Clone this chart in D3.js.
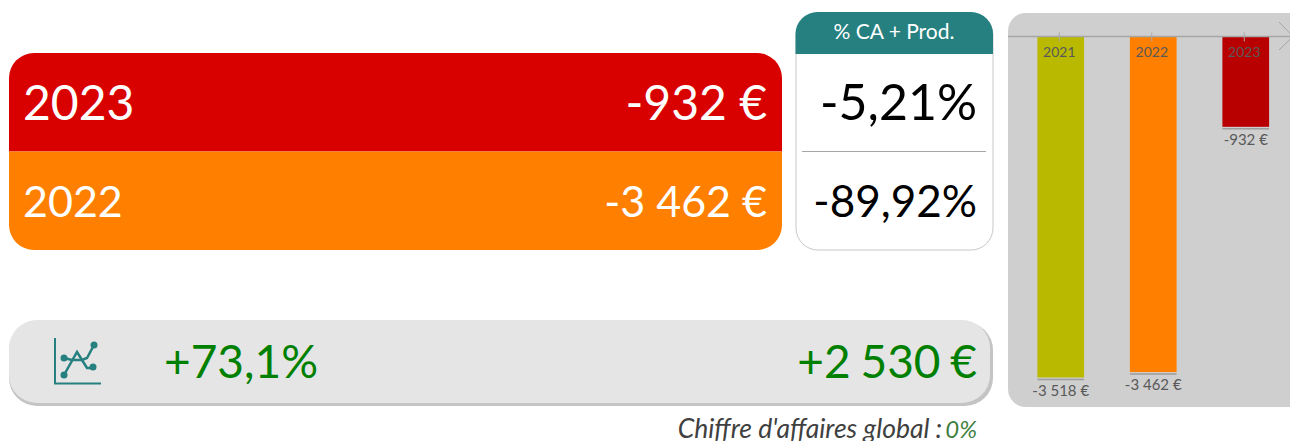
<!DOCTYPE html>
<html>
<head>
<meta charset="utf-8">
<script src="https://cdn.jsdelivr.net/npm/d3@7"></script>
<style>
  html, body { margin: 0; padding: 0; background: #fff; overflow: hidden; }
  svg { display: block; }
  text { font-family: Lato, "Open Sans", sans-serif; }
</style>
</head>
<body>
<script>
// values
var years = ["2021", "2022", "2023"];
var results = [-3518, -3462, -932];
var barColors = ["#b9b900", "#ff8000", "#b90000"];

var rowYears = ["2023", "2022"];
var rowValues = ["-932 €", "-3 462 €"];
var rowColors = ["#d90000", "#ff8000"];
var rowSizes = [48, 43];
var rowPercents = ["-5,21%", "-89,92%"];

var percentTitle = "% CA + Prod.";
var evolutionPercent = "+73,1%";
var evolutionAmount = "+2 530 €";
var footerLabel = "Chiffre d'affaires global :";
var footerValue = "0%";

var width = 1290, height = 441;
var svg = d3.select("body").append("svg")
    .attr("width", width)
    .attr("height", height);

function euro(v) {
  var s = String(Math.abs(v)).replace(/\B(?=(\d{3})+$)/g, " ");
  return (v < 0 ? "-" : "") + s + " €";
}

// rounded rect path, r = [tl, tr, br, bl]
function roundRect(x, y, w, h, r) {
  var p = d3.path();
  p.moveTo(x + r[0], y);
  p.lineTo(x + w - r[1], y);
  p.arcTo(x + w, y, x + w, y + r[1], r[1]);
  p.lineTo(x + w, y + h - r[2]);
  p.arcTo(x + w, y + h, x + w - r[2], y + h, r[2]);
  p.lineTo(x + r[3], y + h);
  p.arcTo(x, y + h, x, y + h - r[3], r[3]);
  p.lineTo(x, y + r[0]);
  p.arcTo(x, y, x + r[0], y, r[0]);
  p.closePath();
  return p.toString();
}

// two big rows on the left
var rowY = d3.scaleBand().domain(rowYears).range([53, 250]);
var rows = svg.selectAll("g.row").data(rowYears).enter().append("g").attr("class", "row");

rows.append("path")
    .attr("d", function(d, i) {
      var r = i == 0 ? [25, 25, 0, 0] : [0, 0, 25, 25];
      return roundRect(9, rowY(d), 773, rowY.bandwidth(), r);
    })
    .attr("fill", function(d, i) { return rowColors[i]; });

rows.append("text")
    .attr("x", 23)
    .attr("y", function(d, i) { return rowY(d) + (i == 0 ? 67 : 65); })
    .attr("font-size", function(d, i) { return rowSizes[i]; })
    .attr("fill", "#fff")
    .text(function(d) { return d; });

rows.append("text")
    .attr("x", 767)
    .attr("y", function(d, i) { return rowY(d) + (i == 0 ? 67 : 65); })
    .attr("text-anchor", "end")
    .attr("font-size", function(d, i) { return rowSizes[i]; })
    .attr("fill", "#fff")
    .text(function(d, i) { return rowValues[i]; });

// percent card
svg.append("path")
    .attr("d", roundRect(796, 13, 197, 237, [22, 22, 22, 22]))
    .attr("fill", "#fff")
    .attr("stroke", "#c8c8c8");
svg.append("path")
    .attr("d", roundRect(795.5, 12, 197.5, 42, [22, 22, 0, 0]))
    .attr("fill", "#268080");
svg.append("text")
    .attr("x", 894).attr("y", 39)
    .attr("text-anchor", "middle")
    .attr("font-size", 21)
    .attr("fill", "#fff")
    .text(percentTitle);
svg.append("line")
    .attr("x1", 802).attr("x2", 986)
    .attr("y1", 151.5).attr("y2", 151.5)
    .attr("stroke", "#a6a6a6");
svg.selectAll("text.pct").data(rowPercents).enter().append("text")
    .attr("class", "pct")
    .attr("x", 977)
    .attr("y", function(d, i) { return i == 0 ? 120 : 217; })
    .attr("text-anchor", "end")
    .attr("font-size", function(d, i) { return i == 0 ? 50 : 44; })
    .attr("fill", "#000")
    .text(function(d) { return d; });

// evolution band
svg.append("path")
    .attr("d", roundRect(9, 322, 984, 84, [28, 28, 28, 28]))
    .attr("fill", "#c4c4c4");
svg.append("path")
    .attr("d", roundRect(9, 320, 981, 83, [28, 28, 28, 28]))
    .attr("fill", "#e5e5e5");

var icon = svg.append("g").attr("fill", "none").attr("stroke", "#268080");
icon.append("path")
    .attr("d", "M55,338V383.5H101")
    .attr("stroke-width", 2);
icon.append("path")
    .attr("d", "M64,375L77,352L87,368H93")
    .attr("stroke-width", 2.5);
icon.append("path")
    .attr("d", "M64,358L72,360L82,360L87,358L94,345")
    .attr("stroke-width", 2.5);
icon.selectAll("circle")
    .data([[64, 375], [64, 358], [93, 367], [94, 345]])
    .enter().append("circle")
    .attr("cx", function(d) { return d[0]; })
    .attr("cy", function(d) { return d[1]; })
    .attr("r", 3.5)
    .attr("fill", "#268080")
    .attr("stroke", "none");

svg.append("text")
    .attr("x", 164).attr("y", 378)
    .attr("font-size", 46)
    .attr("fill", "#008000")
    .text(evolutionPercent);
svg.append("text")
    .attr("x", 977).attr("y", 378)
    .attr("text-anchor", "end")
    .attr("font-size", 46)
    .attr("word-spacing", -2)
    .attr("fill", "#008000")
    .text(evolutionAmount);

// footer
var footer = svg.append("text")
    .attr("x", 977).attr("y", 438)
    .attr("text-anchor", "end")
    .attr("font-size", 26.5)
    .attr("font-style", "italic")
    .attr("fill", "#404040");
footer.append("tspan").text(footerLabel);
footer.append("tspan").attr("dx", 3).attr("font-size", 24).attr("fill", "#3f7f3f").text(footerValue);

// bar chart panel
svg.append("path")
    .attr("d", roundRect(1008, 13, 300, 394, [18, 18, 18, 18]))
    .attr("fill", "#cfcfcf");

var x = d3.scaleBand()
    .domain(years)
    .range([1014.5, 1292])
    .paddingInner(0.495)
    .paddingOuter(0.2475);
var y = d3.scaleLinear()
    .domain([0, -3518])
    .range([36.5, 377.5]);

var bars = svg.selectAll("g.bar").data(years).enter().append("g").attr("class", "bar");
bars.append("rect")
    .attr("x", function(d) { return x(d); })
    .attr("y", y(0))
    .attr("width", x.bandwidth())
    .attr("height", function(d, i) { return y(results[i]) - y(0); })
    .attr("fill", function(d, i) { return barColors[i]; });
bars.append("line")
    .attr("x1", function(d) { return x(d); })
    .attr("x2", function(d) { return x(d) + x.bandwidth(); })
    .attr("y1", function(d, i) { return y(results[i]) + 2; })
    .attr("y2", function(d, i) { return y(results[i]) + 2; })
    .attr("stroke", "#9c9c9c")
    .attr("stroke-width", 1.5);
bars.append("text")
    .attr("x", function(d) { return x(d) + x.bandwidth() / 2; })
    .attr("y", function(d, i) { return y(results[i]) + 18; })
    .attr("text-anchor", "middle")
    .attr("font-size", 15)
    .attr("fill", "#595959")
    .text(function(d, i) { return euro(results[i]); });

// axis on top, ticks run both sides of the line
var axis = svg.append("g")
    .attr("transform", "translate(-1.5,36.5)")
    .call(d3.axisBottom(x).tickSize(5).tickPadding(6));
axis.select(".domain").remove();
axis.selectAll(".tick line")
    .attr("y1", -4).attr("y2", 5)
    .attr("stroke", "#a6a6a6");
axis.selectAll(".tick text")
    .attr("font-family", null)
    .attr("font-size", 14)
    .attr("fill", "#595959");

svg.append("line")
    .attr("x1", 1008).attr("x2", 1290)
    .attr("y1", 36.5).attr("y2", 36.5)
    .attr("stroke", "#a6a6a6")
    .attr("stroke-width", 1.5);
svg.append("path")
    .attr("d", "M1279,22L1293,36.5L1279,50")
    .attr("fill", "none")
    .attr("stroke", "#a6a6a6");
</script>
</body>
</html>
